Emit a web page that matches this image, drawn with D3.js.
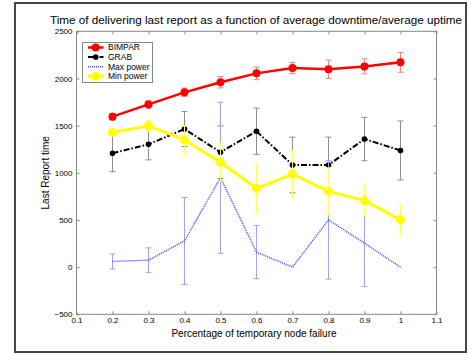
<!DOCTYPE html>
<html>
<head>
<meta charset="utf-8">
<script src="https://cdn.jsdelivr.net/npm/d3@7"></script>
<style>
  body { margin: 0; background: #fff; }
  svg { display: block; font-family: 'Liberation Sans', Arial, sans-serif; }
  .axis text { font-size: 8px; fill: #000; }
  .axis line { stroke: #888; }
  .axis path { display: none; }
</style>
</head>
<body>
<div id="chart"></div>
<script>
// failure percentages
const failure = [0.2, 0.3, 0.4, 0.5, 0.6, 0.7, 0.8, 0.9, 1.0];

// series values (last report time) and error half-widths
const bimpar = [1595, 1725, 1853, 1960, 2054, 2110, 2097, 2128, 2171];
const bimparErr = [35, 40, 45, 60, 67, 60, 97, 80, 105];
const grab = [1207, 1302, 1464, 1218, 1440, 1083, 1083, 1358, 1237];
const grabErr = [195, 165, 185, 280, 245, 295, 295, 230, 312];
const maxPower = [60, 74, 278, 948, 159, 0, 501, 254, 0];
const maxPowerErr = [80, 130, 460, 800, 282, 0, 628, 460, 0];
const minPower = [1428, 1498, 1348, 1112, 833, 987, 803, 705, 501];
const minPowerErr = [30, 55, 150, 200, 260, 250, 250, 163, 162];

const xTicks = [0.1, 0.2, 0.3, 0.4, 0.5, 0.6, 0.7, 0.8, 0.9, 1, 1.1];
const yTicks = [-500, 0, 500, 1000, 1500, 2000, 2500];

const width = 473, height = 353;

const series = [
    { name: 'BIMPAR', values: bimpar, err: bimparErr, color: '#ff0000', barColor: '#ff8080', width: 2.5, dash: null, r: 4 },
    { name: 'GRAB', values: grab, err: grabErr, color: '#000000', barColor: '#8c8c8c', width: 2, dash: '6,2,1.5,2', r: 2.8 },
    { name: 'Max power', values: maxPower, err: maxPowerErr, color: '#4444ff', barColor: '#a0a0ff', width: 1.5, dash: '1,1', r: 0 },
    { name: 'Min power', values: minPower, err: minPowerErr, color: '#ffff00', barColor: '#ffff60', width: 3, dash: null, r: 4.5 }
];

const svg = d3.select('#chart').append('svg')
    .attr('width', width)
    .attr('height', height);

// figure frame
svg.append('rect')
    .attr('x', 15).attr('y', 3)
    .attr('width', 451).attr('height', 349)
    .attr('fill', '#fff')
    .attr('stroke', '#444')
    .attr('stroke-width', 2);

const x = d3.scaleLinear().domain([0.1, 1.1]).range([76.5, 436.5]);
const y = d3.scaleLinear().domain([-500, 2500]).range([314.3, 31.3]);

// axes, ticks pointing inward like matlab
svg.append('g').attr('class', 'axis')
    .attr('transform', `translate(0,${y(-500)})`)
    .call(d3.axisBottom(x).tickValues(xTicks).tickFormat(d3.format('~g'))
        .tickSizeInner(-3).tickSizeOuter(0).tickPadding(3));
svg.append('g').attr('class', 'axis')
    .attr('transform', `translate(0,${y(2500)})`)
    .call(d3.axisTop(x).tickValues(xTicks).tickFormat('')
        .tickSizeInner(-3).tickSizeOuter(0));
svg.append('g').attr('class', 'axis')
    .attr('transform', `translate(${x(0.1)},0)`)
    .call(d3.axisLeft(y).tickValues(yTicks).tickFormat(d3.format('d'))
        .tickSizeInner(-3).tickSizeOuter(0).tickPadding(4));
svg.append('g').attr('class', 'axis')
    .attr('transform', `translate(${x(1.1)},0)`)
    .call(d3.axisRight(y).tickValues(yTicks).tickFormat('')
        .tickSizeInner(-3).tickSizeOuter(0));

// plot box
svg.append('rect')
    .attr('x', x(0.1)).attr('y', y(2500))
    .attr('width', x(1.1) - x(0.1)).attr('height', y(-500) - y(2500))
    .attr('fill', 'none')
    .attr('stroke', '#888')
    .attr('stroke-width', 1);

const line = d3.line()
    .x(d => x(d[0]))
    .y(d => y(d[1]));

series.forEach(s => {
    const pts = failure.map((f, i) => [f, s.values[i], s.err[i]]);
    const g = svg.append('g');

    // error bars
    const bars = g.selectAll('.bar')
        .data(pts.filter(d => d[2] > 0))
        .enter().append('g');
    bars.append('line')
        .attr('x1', d => x(d[0])).attr('x2', d => x(d[0]))
        .attr('y1', d => y(d[1] - d[2])).attr('y2', d => y(d[1] + d[2]))
        .attr('stroke', s.barColor).attr('stroke-width', 1);
    [-1, 1].forEach(sign => {
        bars.append('line')
            .attr('x1', d => x(d[0]) - 3).attr('x2', d => x(d[0]) + 3)
            .attr('y1', d => y(d[1] + sign * d[2])).attr('y2', d => y(d[1] + sign * d[2]))
            .attr('stroke', s.barColor).attr('stroke-width', 1);
    });

    g.append('path')
        .datum(pts)
        .attr('d', line)
        .attr('fill', 'none')
        .attr('stroke', s.color)
        .attr('stroke-width', s.width)
        .attr('stroke-dasharray', s.dash);

    if (s.r > 0) {
        g.selectAll('circle')
            .data(pts)
            .enter().append('circle')
            .attr('cx', d => x(d[0]))
            .attr('cy', d => y(d[1]))
            .attr('r', s.r)
            .attr('fill', s.color);
    }
});

// legend
const legend = svg.append('g');
legend.append('rect')
    .attr('x', 82.5).attr('y', 42.5)
    .attr('width', 70).attr('height', 40)
    .attr('fill', '#fff')
    .attr('stroke', '#888')
    .attr('stroke-width', 1);

series.forEach((s, i) => {
    const ly = 47.5 + i * 9.6;
    legend.append('line')
        .attr('x1', 88).attr('x2', 103.5)
        .attr('y1', ly).attr('y2', ly)
        .attr('stroke', s.color)
        .attr('stroke-width', s.width)
        .attr('stroke-dasharray', s.dash);
    if (s.r > 0) {
        legend.append('circle')
            .attr('cx', 95.7).attr('cy', ly)
            .attr('r', s.r)
            .attr('fill', s.color);
    }
    legend.append('text')
        .attr('x', 108).attr('y', ly)
        .attr('dy', '0.35em')
        .style('font-size', '8.5px')
        .text(s.name);
});

// titles
svg.append('text')
    .attr('x', 256).attr('y', 24)
    .attr('text-anchor', 'middle')
    .style('font-size', '11.7px')
    .text('Time of delivering last report as a function of average downtime/average uptime');

svg.append('text')
    .attr('x', 254).attr('y', 337)
    .attr('text-anchor', 'middle')
    .style('font-size', '10px')
    .text('Percentage of temporary node failure');

svg.append('text')
    .attr('transform', `translate(49,${(y(2500) + y(-500)) / 2}) rotate(-90)`)
    .attr('text-anchor', 'middle')
    .style('font-size', '10px')
    .text('Last Report time');
</script>
</body>
</html>
